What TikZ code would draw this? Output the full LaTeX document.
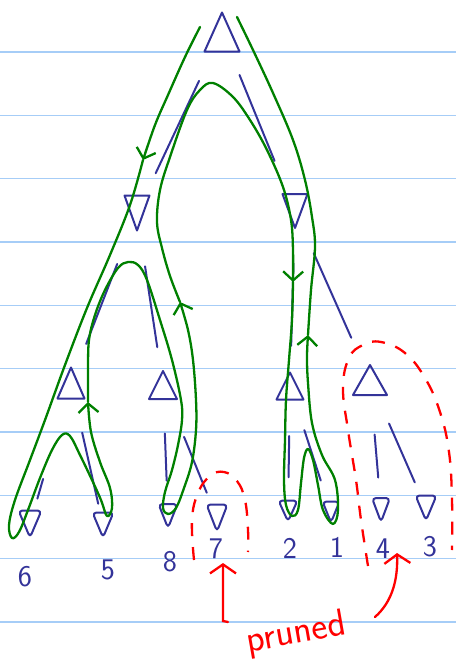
\documentclass[tikz,border=0pt]{standalone}
\usepackage{xcolor}
\usepackage{tikz}
\usetikzlibrary{arrows.meta, positioning, calc}
\definecolor{treeblue}{HTML}{333399}
\definecolor{walk}{HTML}{008000}
\definecolor{cut}{HTML}{FF0000}
\definecolor{ruling}{HTML}{A6CDF7}
\tikzset{
  tri/.style={draw=treeblue, line width=2pt, line join=round},
  leaftri/.style={tri, rounded corners=4pt},
  score/.style={text=treeblue, font=\sffamily\fontsize{30}{30}\selectfont, inner sep=0pt},
  edge/.style={treeblue, line width=2pt, line cap=round},
  walkline/.style={walk, line width=2.3pt, line cap=round, line join=round},
  walkarr/.style={walkline, -{Straight Barb[length=9pt, width=20pt, line width=2.3pt]}},
  prunebox/.style={cut, line width=2.3pt, dash pattern=on 13pt off 11pt},
  prunearr/.style={cut, line width=2.3pt, line cap=round, -{Straight Barb[length=9pt, width=26pt, line width=2.3pt]}},
}
% name, x, y, width, height (y grows downwards)
\newcommand{\maxtri}[5]{%
  \coordinate (#1) at (#2,#3);
  \draw[tri] (#2-#4/2,#3+#5/2) -- (#2,#3-#5/2) -- (#2+#4/2,#3+#5/2) -- cycle;}
\newcommand{\mintri}[6][tri]{%
  \coordinate (#2) at (#3,#4);
  \draw[#1] (#3-#5/2,#4-#6/2) -- (#3+#5/2,#4-#6/2) -- (#3,#4+#6/2) -- cycle;}

\begin{document}
\begin{tikzpicture}[x=1pt, y=-1pt]
\useasboundingbox (0,0) rectangle (456,665);
% ruled paper
\foreach \i in {0,...,9}
  \draw[ruling, line width=1.5pt] (0,{52+63.33*\i}) -- (456,{52+63.33*\i});

% tree nodes
\maxtri{root}{222}{32}{35}{39}
\mintri{lmin}{137}{213}{25}{35}
\mintri{rmin}{295}{211}{25}{34}
\maxtri{ma}{71}{383}{27}{31}
\maxtri{mb}{163}{385}{28}{28}
\maxtri{mc}{290}{386}{27}{27}
\maxtri{md}{370}{380}{34}{30}
\mintri[leaftri]{l6}{30}{524}{23}{27}
\mintri[leaftri]{l5}{103}{525}{21}{25}
\mintri[leaftri]{l8}{168}{516}{19}{24}
\mintri[leaftri]{l7}{217}{518}{21}{27}
\mintri[leaftri]{l2}{288}{511}{19}{21}
\mintri[leaftri]{l1}{331}{512}{17}{21}
\mintri[leaftri]{l4}{381}{510}{18}{24}
\mintri[leaftri]{l3}{426}{508}{21}{25}

% leaf values
\node[score] (v6) at (25,577) {6};
\node[score] (v5) at (108,570) {5};
\node[score] (v8) at (170,562) {8};
\node[score] (v7) at (216,549) {7};
\node[score] (v2) at (290,548) {2};
\node[score] (v1) at (337,547) {1};
\node[score] (v4) at (383,549) {4};
\node[score] (v3) at (430,547) {3};

% edges
\draw[edge] ($(root)!0.27!(lmin)$) -- ($(root)!0.78!(lmin)$);
\draw[edge] ($(root)!0.24!(rmin)$) -- ($(root)!0.72!(rmin)$);
\draw[edge] ($(lmin)!0.30!(ma)$) -- ($(lmin)!0.77!(ma)$);
\draw[edge] ($(lmin)!0.31!(mb)$) -- ($(lmin)!0.78!(mb)$);
\draw[edge] ($(rmin)!0.30!(mc)$) -- ($(rmin)!0.77!(mc)$);
\draw[edge] ($(rmin)!0.25!(md)$) -- ($(rmin)!0.75!(md)$);
\draw[edge] ($(ma)!0.68!(l6)$) -- ($(ma)!0.82!(l6)$);
\draw[edge] ($(ma)!0.35!(l5)$) -- ($(ma)!0.85!(l5)$);
\draw[edge] ($(mb)!0.37!(l8)$) -- ($(mb)!0.73!(l8)$);
\draw[edge] ($(mb)!0.39!(l7)$) -- ($(mb)!0.81!(l7)$);
\draw[edge] ($(mc)!0.40!(l2)$) -- ($(mc)!0.73!(l2)$);
\draw[edge] ($(mc)!0.35!(l1)$) -- ($(mc)!0.75!(l1)$);
\draw[edge] ($(md)!0.42!(l4)$) -- ($(md)!0.75!(l4)$);
\draw[edge] ($(md)!0.34!(l3)$) -- ($(md)!0.80!(l3)$);

% depth-first walk
\draw[walkarr] plot[smooth, tension=0.6] coordinates {(200,27) (185,57) (168,95) (155,125) (143,160)};
\draw[walkarr] plot[smooth, tension=0.6] coordinates {(143,160) (130,205) (110,255) (87,308) (65,365) (45,420) (30,460) (15,500) (9,525) (12,538) (19,532) (28,510) (40,478) (52,450) (62,435) (70,436) (80,455) (92,480) (101,500) (107,516) (112,508) (110,488) (100,462) (91,432) (88,402)};
\draw[walkarr] plot[smooth, tension=0.6] coordinates {(88,402) (88,370) (89,340) (95,315) (105,290) (118,268) (128,262) (138,265) (147,280) (160,320) (172,360) (181,400) (182,420) (178,445) (172,470) (165,492) (163,508) (168,514) (176,508) (184,488) (192,462) (196,430) (196,400) (193,360) (188,330) (180,302)};
\draw[walkarr] plot[smooth, tension=0.6] coordinates {(180,302) (170,276) (162,248) (157,222) (160,190) (170,157) (187,110) (200,90) (213,83) (233,97) (250,120) (267,150) (283,187) (291,220) (293,250) (293,282)};
\draw[walkarr] plot[smooth, tension=0.6] coordinates {(293,282) (292,320) (289,360) (286,400) (285,440) (284,480) (286,505) (292,516) (298,510) (301,483) (304,458) (308,449) (313,460) (318,485) (323,510) (333,524) (338,510) (335,480) (322,455) (312,423) (308,383) (307,357) (308,335)};
\draw[walkline] plot[smooth, tension=0.6] coordinates {(308,335) (311,290) (315,247) (312,217) (305,180) (293,140) (273,93) (253,50) (237,17)};

% pruned parts
\draw[prunebox] plot[smooth, tension=0.7] coordinates {(194,560) (192,520) (198,493) (210,476) (224,472) (237,481) (245,500) (248,530) (248,552)};
\draw[prunebox] plot[smooth, tension=0.7] coordinates {(368,566) (361,520) (356,480) (348,430) (343,388) (349,358) (363,345) (381,342) (405,353) (425,378) (440,412) (449,452) (452,500) (452,550)};
\node[text=cut, font=\sffamily\fontsize{38}{38}\selectfont, rotate=10, inner sep=0pt] (pruned) at (296,634) {pruned};
\coordinate (cut7) at (223,563);
\coordinate (cut43) at (397,553);
\draw[prunearr] (228,622) -- (223,621) -- (cut7);
\draw[prunearr] (375,617) .. controls (392,602) and (398,580) .. (cut43);
\end{tikzpicture}
\end{document}
